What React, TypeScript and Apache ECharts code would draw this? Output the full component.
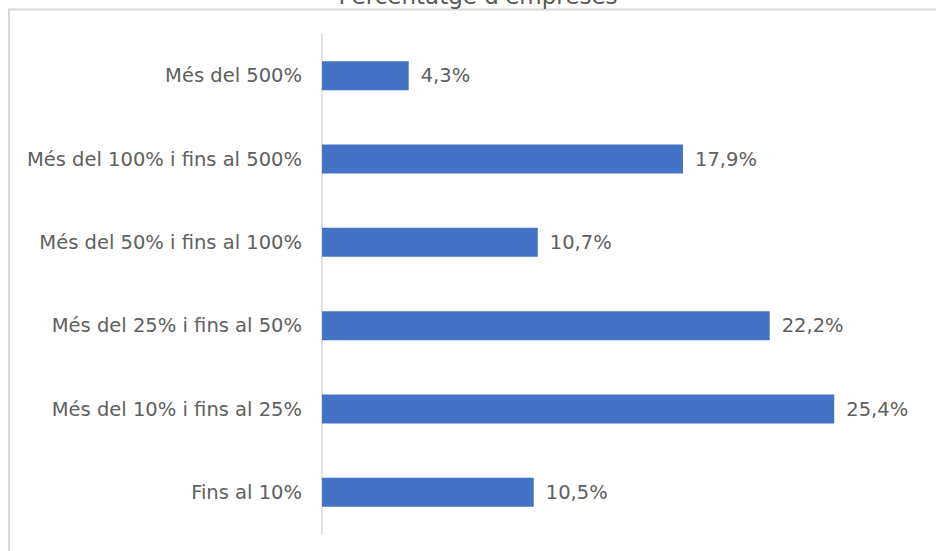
import React, { useEffect, useRef } from "react";
import * as echarts from "echarts";

const categories = [
  "Fins al 10%",
  "Més del 10% i fins al 25%",
  "Més del 25% i fins al 50%",
  "Més del 50% i fins al 100%",
  "Més del 100% i fins al 500%",
  "Més del 500%",
];
const values = [10.5, 25.4, 22.2, 10.7, 17.9, 4.3];
const titleText = "Percentatge d'empreses";

export default function App() {
  const ref = useRef<HTMLDivElement>(null);
  useEffect(() => {
    if (!ref.current) return;
    const chart = echarts.init(ref.current, undefined, { renderer: "svg" });
    const font = "'DejaVu Sans', sans-serif";
    chart.setOption({
      animation: false,
      backgroundColor: "#ffffff",
      graphic: [
        {
          type: "rect",
          shape: { x: 9, y: 9.5, width: 1000, height: 600 },
          style: { fill: "none", stroke: "#d9d9d9", lineWidth: 2 },
          z: 0,
        },
        {
          type: "text",
          x: 478,
          y: 7,
          style: {
            text: titleText,
            fontSize: 23,
            fontFamily: font,
            fill: "#595959",
            textAlign: "center",
            textVerticalAlign: "bottom",
          },
          z: 10,
        },
      ],
      grid: { left: 322, top: 34, width: 605, height: 500, containLabel: false },
      xAxis: {
        type: "value",
        min: 0,
        max: 30,
        show: false,
        splitLine: { show: false },
      },
      yAxis: {
        type: "category",
        data: categories,
        axisLine: { show: true, lineStyle: { color: "#d9d9d9", width: 1.5 } },
        axisTick: { show: false },
        axisLabel: {
          margin: 20,
          fontSize: 19.5,
          fontFamily: font,
          color: "#606060",
        },
      },
      series: [
        {
          type: "bar",
          data: values,
          barWidth: 29,
          itemStyle: { color: "#4472c4" },
          label: {
            show: true,
            position: "right",
            distance: 12,
            fontSize: 19.5,
            fontFamily: font,
            color: "#606060",
            formatter: (p: any) => String(p.value.toFixed(1)).replace(".", ",") + "%",
          },
        },
      ],
    });
    return () => chart.dispose();
  }, []);
  return (
    <div
      ref={ref}
      style={{ position: "fixed", left: 0, top: 0, width: 936, height: 551 }}
    />
  );
}
